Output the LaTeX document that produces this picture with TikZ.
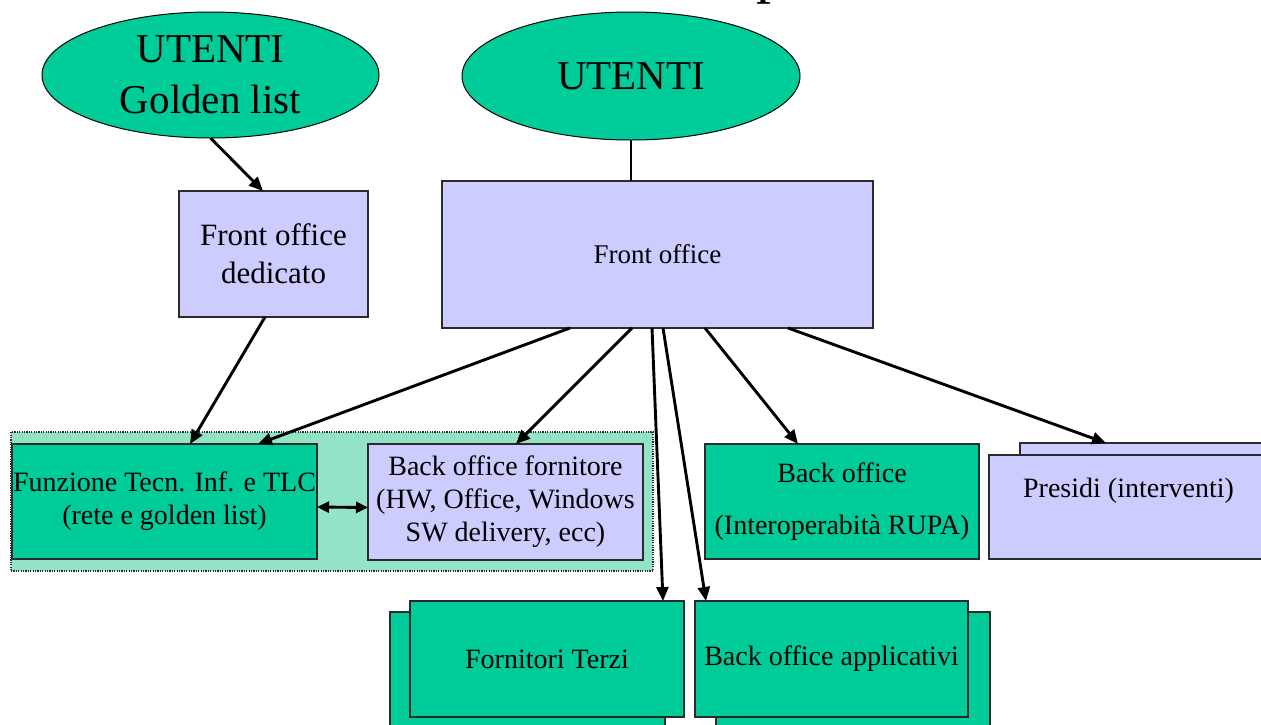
\documentclass[tikz,border=0pt]{standalone}
\usepackage{fontspec}
\setmainfont{Liberation Serif}
\usetikzlibrary{shapes.geometric,arrows.meta,calc}
\definecolor{tgreen}{HTML}{00CC99}
\definecolor{tlav}{HTML}{CCCCFF}
\definecolor{tmint}{HTML}{93E3C6}
\definecolor{tedge}{HTML}{2B2B2B}
\begin{document}
\begin{tikzpicture}[x=1pt,y=-1pt,
  oval/.style={ellipse,draw=black,line width=1pt,fill=tgreen,inner sep=0pt,outer sep=0pt,align=center,
    minimum width=337pt,minimum height=126pt,font=\fontsize{41}{51}\selectfont},
  gbox/.style={rectangle,draw=tedge,line width=1.2pt,fill=tgreen,inner sep=0pt,outer sep=0pt,align=center,
    font=\fontsize{28}{33}\selectfont},
  lbox/.style={gbox,fill=tlav},
  arr/.style={line width=2.9pt,-{Triangle[length=14pt,width=12pt]}},
  darr/.style={line width=2.9pt,{Triangle[length=12pt,width=11pt]}-{Triangle[length=12pt,width=11pt]}},
  plain/.style={line width=2.9pt}]
\useasboundingbox (0,0) rectangle (1261,724);
\clip (0,0) rectangle (1261,724);
\fill[white] (0,0) rectangle (1261,724);

% cut-off title glyph
\node[anchor=base west,inner sep=0pt,font=\fontsize{60}{60}\selectfont] (ttl) at (756,-9) {p};

% ellipses
\node[oval] (ug) at (210.5,75) {UTENTI\\Golden list};
\node[oval,minimum width=338pt,minimum height=128pt] (u) at (631,76) {UTENTI};

% front offices
\node[lbox,minimum width=189pt,minimum height=126pt,font=\fontsize{31}{38}\selectfont] (fod) at (273.5,254) {Front office\\ dedicato};
\node[lbox,minimum width=431pt,minimum height=147pt,font=\fontsize{27}{33}\selectfont] (fo) at (657.5,254.5) {Front office};

% shaded group
\node[rectangle,draw=tedge,line width=1.6pt,dash pattern=on 1.2pt off 1.2pt,fill=tmint,inner sep=0pt,
  minimum width=642pt,minimum height=139pt] (grp) at (332,501.5) {};
\node[gbox,minimum width=305pt,minimum height=115pt] (fz) at (164.5,501.5) {Funzione Tecn. Inf. e TLC\\(rete e golden list)};
\node[lbox,minimum width=275pt,minimum height=116pt] (bof) at (505.5,502) {Back office fornitore\\(HW, Office, Windows\\SW delivery, ecc)};

% back office RUPA
\node[gbox,minimum width=274pt,minimum height=115pt] (bor) at (842,501.5) {Back office\\[19pt](Interoperabità RUPA)};

% presidi (stacked)
\node[lbox,minimum width=279pt,minimum height=116pt] (prb) at (1159.5,501) {};
\node[lbox,minimum width=279pt,minimum height=104pt] (pr) at (1128.5,507) {};
\node[font=\fontsize{28}{33}\selectfont,inner sep=0pt] (prt) at (1128.5,491) {Presidi (interventi)};

% fornitori terzi (stacked)
\node[gbox,minimum width=275pt,minimum height=116pt] (ftb) at (527.5,670) {};
\node[gbox,minimum width=274pt,minimum height=116pt] (ft) at (547,659) {Fornitori Terzi};

% back office applicativi (stacked)
\node[gbox,minimum width=274pt,minimum height=116pt] (boab) at (853,670) {};
\node[gbox,minimum width=273pt,minimum height=116pt] (boa) at (831.5,659) {Back office applicativi};

% connectors
\draw[arr] (ug.south) -- ([xshift=-10.5pt]fod.north);
\draw[plain] (u.south) -- (u.south |- fo.north);
\draw[arr] ([xshift=-8.5pt]fod.south) -- ([xshift=25.5pt]fz.north);
\draw[arr] ([xshift=-87.5pt]fo.south) -- ([xshift=93.5pt]fz.north);
\draw[arr] ([xshift=-25.5pt]fo.south) -- ([xshift=10.5pt]bof.north);
\draw[arr] ([xshift=-5.5pt]fo.south) -- ([xshift=116pt]ft.north);
\draw[arr] ([xshift=5.5pt]fo.south) -- ([xshift=-125.5pt]boa.north);
\draw[arr] ([xshift=47.5pt]fo.south) -- ([xshift=-44pt]bor.north);
\draw[arr] ([xshift=130.5pt]fo.south) -- ([xshift=-53.5pt]prb.north);
\draw[darr] ([yshift=-5.5pt]fz.east) -- ([yshift=-5.5pt]bof.west);
\end{tikzpicture}
\end{document}
